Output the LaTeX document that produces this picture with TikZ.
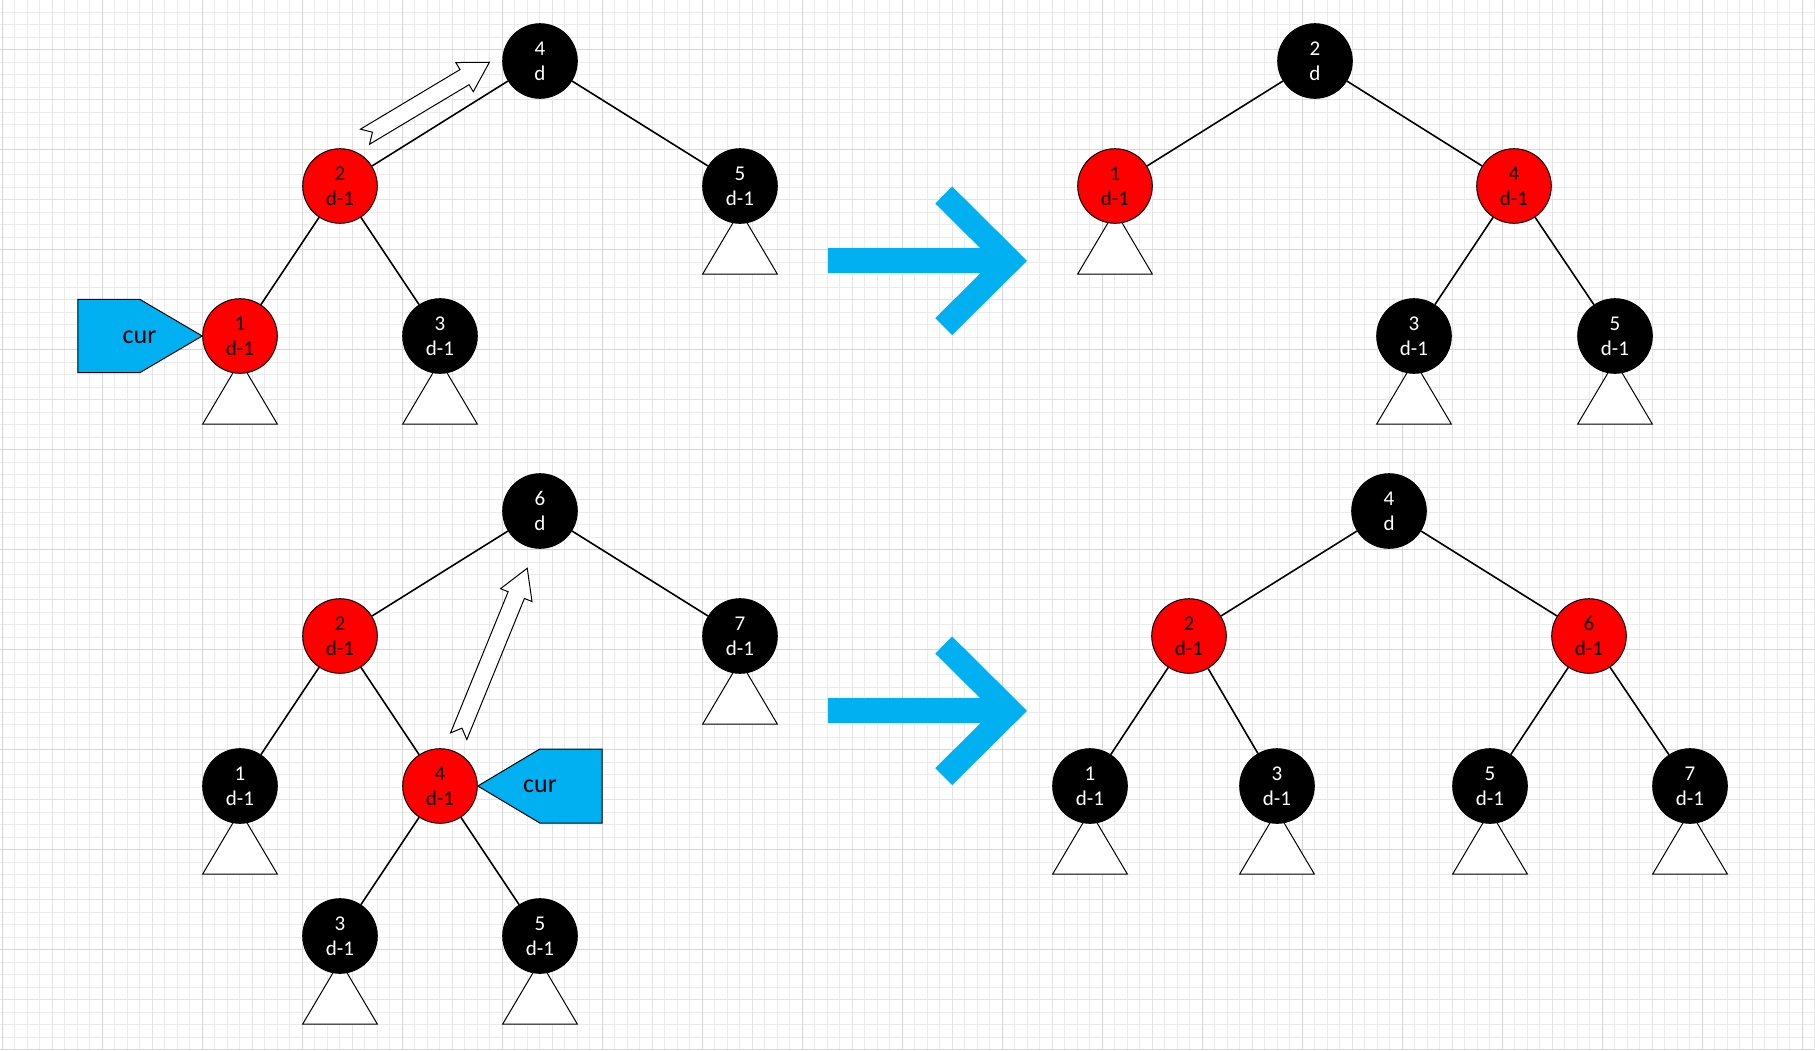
\documentclass[tikz,border=0pt]{standalone}
\usepackage{fontspec}
\setmainfont{Carlito}
\definecolor{nodered}{HTML}{FF0000}
\definecolor{curblue}{HTML}{00B0F0}
\definecolor{gridminor}{HTML}{EBEBEB}
\definecolor{gridmid}{HTML}{E3E3E3}
\definecolor{gridmajor}{HTML}{D6D6D6}
\pgfdeclarelayer{gridlayer}
\pgfdeclarelayer{back}
\pgfsetlayers{gridlayer,back,main}
\begin{document}
\begin{tikzpicture}[
    x=0.5pt, y=-0.5pt,
    rbnode/.style={circle, draw=black, line width=0.5pt, minimum size=37.3pt, inner sep=0pt, align=center, font=\fontsize{10.5}{12.5}\selectfont},
    rednode/.style={rbnode, fill=nodered, text=black},
    blacknode/.style={rbnode, fill=black, text=white},
    link/.style={line width=0.8pt},
    subtree/.style={draw=black, fill=white, line width=0.5pt},
    hollow/.style={draw=black, fill=white, line width=0.5pt},
    curtag/.style={draw=black, fill=curblue, line width=0.5pt},
    curlabel/.style={font=\fontsize{13}{15}\selectfont, inner sep=0pt},
    bigarrow/.style={draw=curblue}
  ]
  \useasboundingbox (0,0) rectangle (1815,1050);

  \begin{pgfonlayer}{gridlayer}
    \fill[white] (0,0) rectangle (1815,1050);
    \foreach \gx in {2,14.5,...,1815} \draw[gridminor, line width=0.5pt] (\gx,0) -- (\gx,1050);
    \foreach \gy in {-0.3,12.2,...,1050} \draw[gridminor, line width=0.5pt] (0,\gy) -- (1815,\gy);
    \foreach \gx in {52,152,...,1815} \draw[gridmid, line width=0.5pt] (\gx,0) -- (\gx,1050);
    \foreach \gy in {-0.3,99.7,...,1050} \draw[gridmid, line width=0.5pt] (0,\gy) -- (1815,\gy);
    \foreach \gx in {2,102,...,1815} \draw[gridmajor, line width=0.5pt] (\gx,0) -- (\gx,1050);
    \foreach \gy in {49.7,149.7,...,1050} \draw[gridmajor, line width=0.5pt] (0,\gy) -- (1815,\gy);
  \end{pgfonlayer}

  % top left
  \node[blacknode] (tl4) at (540,61) {4\\d};
  \node[rednode] (tl2) at (340,186) {2\\d-1};
  \node[blacknode] (tl5) at (740,186) {5\\d-1};
  \node[rednode] (tl1) at (240,336) {1\\d-1};
  \node[blacknode] (tl3) at (440,336) {3\\d-1};

  % top right
  \node[blacknode] (tr2) at (1315,61) {2\\d};
  \node[rednode] (tr1) at (1115,186) {1\\d-1};
  \node[rednode] (tr4) at (1514,186) {4\\d-1};
  \node[blacknode] (tr3) at (1414,336) {3\\d-1};
  \node[blacknode] (tr5) at (1615,336) {5\\d-1};

  % bottom left
  \node[blacknode] (bl6) at (540,511) {6\\d};
  \node[rednode] (bl2) at (340,636) {2\\d-1};
  \node[blacknode] (bl7) at (740,636) {7\\d-1};
  \node[blacknode] (bl1) at (240,786) {1\\d-1};
  \node[rednode] (bl4) at (440,786) {4\\d-1};
  \node[blacknode] (bl3) at (340,936) {3\\d-1};
  \node[blacknode] (bl5) at (540,936) {5\\d-1};

  % bottom right
  \node[blacknode] (br4) at (1389,511) {4\\d};
  \node[rednode] (br2) at (1189,636) {2\\d-1};
  \node[rednode] (br6) at (1589,636) {6\\d-1};
  \node[blacknode] (br1) at (1090,786) {1\\d-1};
  \node[blacknode] (br3) at (1277,786) {3\\d-1};
  \node[blacknode] (br5) at (1490,786) {5\\d-1};
  \node[blacknode] (br7) at (1690,786) {7\\d-1};

  \begin{pgfonlayer}{back}
    \foreach \n in {tl5,tl1,tl3,tr1,tr3,tr5,bl7,bl1,bl3,bl5,br1,br3,br5,br7}
      \draw[subtree] ([yshift=-12.5pt]\n.center) -- ++(37.3,63) -- ++(-74.6,0) -- cycle;
  \end{pgfonlayer}

  \draw[link] (tl4) -- (tl2);
  \draw[link] (tl4) -- (tl5);
  \draw[link] (tl2) -- (tl1);
  \draw[link] (tl2) -- (tl3);

  \draw[link] (tr2) -- (tr1);
  \draw[link] (tr2) -- (tr4);
  \draw[link] (tr4) -- (tr3);
  \draw[link] (tr4) -- (tr5);

  \draw[link] (bl6) -- (bl2);
  \draw[link] (bl6) -- (bl7);
  \draw[link] (bl2) -- (bl1);
  \draw[link] (bl2) -- (bl4);
  \draw[link] (bl4) -- (bl3);
  \draw[link] (bl4) -- (bl5);

  \draw[link] (br4) -- (br2);
  \draw[link] (br4) -- (br6);
  \draw[link] (br2) -- (br1);
  \draw[link] (br2) -- (br3);
  \draw[link] (br6) -- (br5);
  \draw[link] (br6) -- (br7);

  % rotation hints
  \foreach \tx/\ty/\ang/\len in {365/136.7/30.9/145, 458.7/736.2/67.8/181.4}
    \draw[hollow, shift={(\tx,\ty)}, rotate=\ang] (0,8.8) -- (\len-29,8.8) -- (\len-29,17) -- (\len,0)
      -- (\len-29,-17) -- (\len-29,-8.8) -- (0,-8.8) -- (8.7,0) -- cycle;

  % cur pointers
  \draw[curtag] (tl1.west) -- ++(-62.4,-36.7) -- ++(-62,0) -- ++(0,73.4) -- ++(62,0) -- cycle;
  \node[curlabel] (curtop) at (139.5,337) {cur};
  \draw[curtag] (bl4.east) -- ++(62,-37) -- ++(62.3,0) -- ++(0,74) -- ++(-62.3,0) -- cycle;
  \node[curlabel] (curbot) at (540,786.5) {cur};

  \foreach \dy in {0,450} {
    \draw[bigarrow, line width=12.5pt] (827.7,260.8+\dy) -- (1000,260.8+\dy);
    \draw[bigarrow, line width=12pt] (943.7,195+\dy) -- (1010,260.8+\dy) -- (943.7,326.6+\dy);
  }
\end{tikzpicture}
\end{document}
